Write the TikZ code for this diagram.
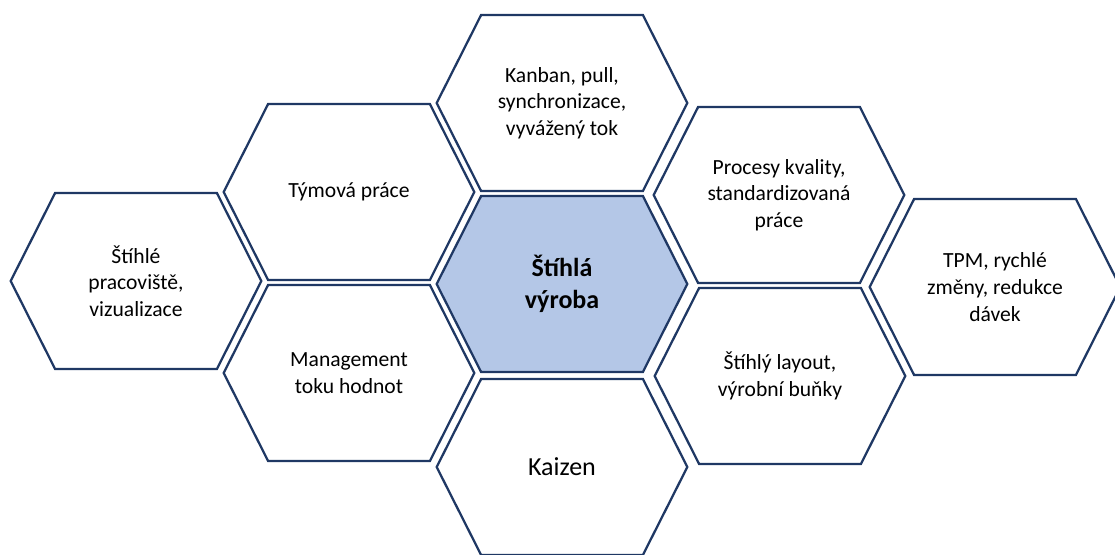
\documentclass[tikz,border=0pt]{standalone}
\usepackage{fontspec}
\setmainfont{Carlito}
\usetikzlibrary{shapes.symbols}
\definecolor{navyline}{RGB}{31,56,100}
\definecolor{leanblue}{RGB}{180,199,231}
\tikzset{
  honey/.style={
    shape=signal, signal to=west and east, signal pointer angle=126.4,
    draw=navyline, line width=1.7pt, fill=white,
    minimum width=188pt, minimum height=132pt,
    inner sep=0pt, outer sep=0pt, align=center,
    font=\fontsize{16.2}{20}\selectfont},
  bighoney/.style={honey, font=\fontsize{19.5}{23.5}\selectfont},
  hubhoney/.style={honey, fill=leanblue, font=\fontsize{19.5}{23.5}\selectfont\bfseries}
}

\begin{document}
\begin{tikzpicture}[x=0.75pt,y=-0.75pt]
    \useasboundingbox (0,0) rectangle (1115,554);
    % middle column
    \node[honey] (kanban) at (562,103) {Kanban, pull,\\synchronizace,\\vyvážený tok};
    \node[hubhoney] (hub) at (562,284) {Štíhlá\\výroba};
    \node[bighoney] (kaizen) at (562,467) {Kaizen};
    % left side
    \node[honey] (tym) at (349,192) {Týmová práce};
    \node[honey] (vsm) at (349,373) {Management\\toku hodnot};
    \node[honey] (pracoviste) at (136,281) {Štíhlé\\pracoviště,\\vizualizace};
    % right side
    \node[honey] (kvalita) at (779,195) {Procesy kvality,\\standardizovaná\\práce};
    \node[honey] (layout) at (780,376) {Štíhlý layout,\\výrobní buňky};
    \node[honey] (tpm) at (995,287) {TPM, rychlé\\změny, redukce\\dávek};
\end{tikzpicture}
\end{document}
